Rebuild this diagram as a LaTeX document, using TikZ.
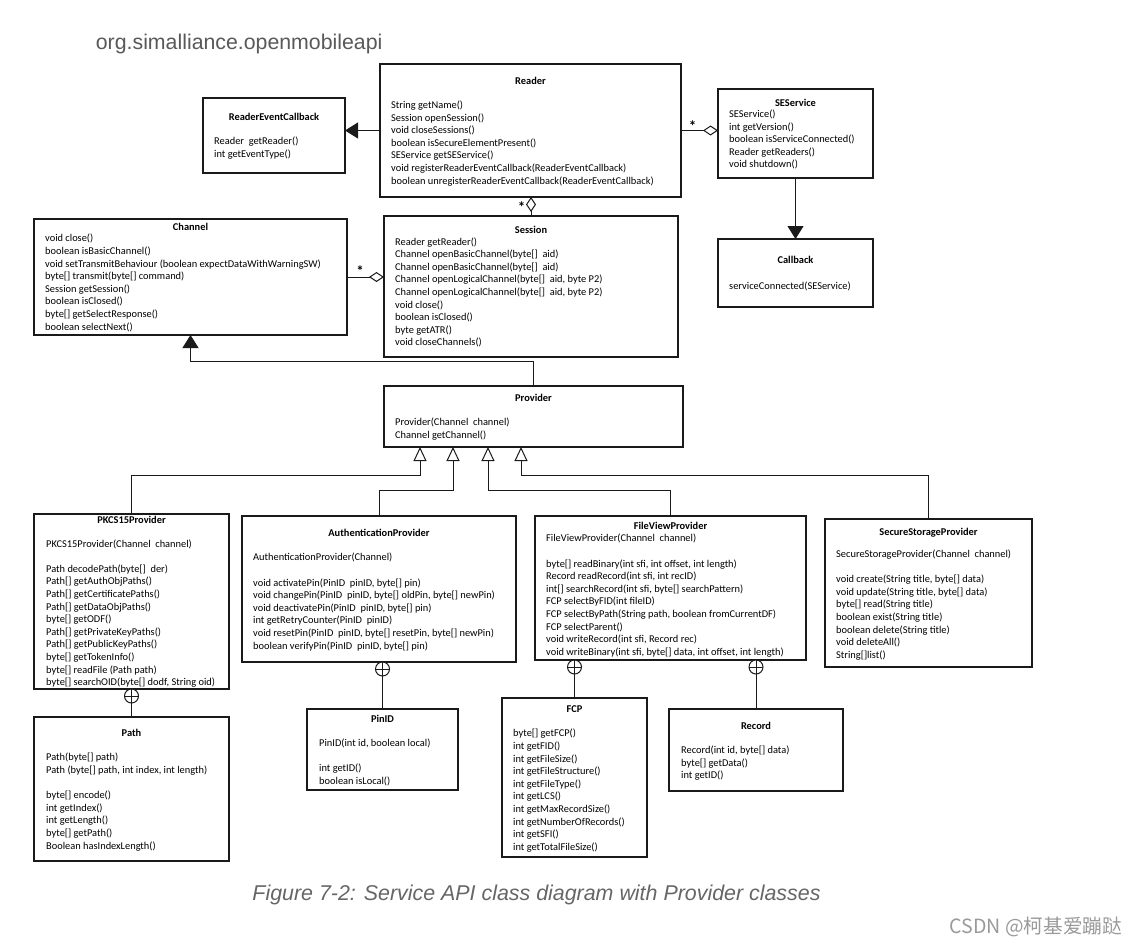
\documentclass[tikz,border=0pt]{standalone}
\usepackage{fontspec}
\setmainfont{Carlito}
\newfontfamily\arialfont{Liberation Sans}
\newfontfamily\cjkfont{Noto Sans CJK SC}
\usetikzlibrary{arrows.meta,calc}

\definecolor{titlegray}{HTML}{595959}
\definecolor{capgray}{HTML}{666666}
\definecolor{wmgray}{HTML}{9A9A9A}
\definecolor{linecol}{HTML}{1A1A1A}

\tikzset{
 box/.style={draw=linecol, line width=1.3pt, inner sep=0pt, outer sep=0pt, anchor=north west, fill=white},
 ctitle/.style={font=\fontsize{10.4}{12.6}\selectfont\bfseries, anchor=base, inner sep=0pt},
 mem/.style={font=\fontsize{10.4}{12.6}\selectfont, anchor=north west, align=left, inner sep=0pt, execute at begin node=\strut},
 conn/.style={draw=linecol, line width=1pt},
 filltri/.style={-{Triangle[length=13pt,width=16pt]}},
 opentri/.style={-{Triangle[open,length=14pt,width=13pt,fill=white]}},
 diam/.style={-{Diamond[open,length=15pt,width=10pt,fill=white]}},
 nest/.style={circle, draw=linecol, line width=1pt, minimum size=14pt, inner sep=0pt, outer sep=0pt, anchor=north, fill=white,
   path picture={\draw[linecol,line width=1pt] (path picture bounding box.north) -- (path picture bounding box.south) (path picture bounding box.west) -- (path picture bounding box.east);}},
 mult/.style={font=\fontsize{15}{15}\selectfont\bfseries, inner sep=0pt},
}

\begin{document}
\begin{tikzpicture}[x=1pt,y=-1pt]
\fill[white] (0,0) rectangle (1137,945);
\useasboundingbox (0,0) rectangle (1137,945);

% ---------- boxes ----------
\node[box, minimum width=142pt, minimum height=75pt] (rec) at (203,98) {};
\node[box, minimum width=301pt, minimum height=133pt] (reader) at (380,64) {};
\node[box, minimum width=155pt, minimum height=89pt] (seservice) at (718,89) {};
\node[box, minimum width=155pt, minimum height=68pt] (callback) at (718,239) {};
\node[box, minimum width=313pt, minimum height=116pt] (channel) at (34,219) {};
\node[box, minimum width=294pt, minimum height=141pt] (session) at (384,216) {};
\node[box, minimum width=299pt, minimum height=61pt] (provider) at (384,386) {};
\node[box, minimum width=195pt, minimum height=175pt] (pkcs) at (34,514) {};
\node[box, minimum width=274pt, minimum height=146pt] (auth) at (242,516) {};
\node[box, minimum width=271pt, minimum height=144pt] (fvp) at (535,516) {};
\node[box, minimum width=207pt, minimum height=148pt] (ssp) at (825,519) {};
\node[box, minimum width=195pt, minimum height=144pt] (path) at (34,717) {};
\node[box, minimum width=151pt, minimum height=81pt] (pinid) at (307,709) {};
\node[box, minimum width=145pt, minimum height=159pt] (fcp) at (502,698) {};
\node[box, minimum width=174pt, minimum height=82pt] (record) at (669,709) {};

% ---------- connectors ----------
\draw[conn, filltri] (reader.west) -- (reader.west -| rec.east);
\draw[conn, diam] (reader.east) -- (reader.east -| seservice.west);
\draw[conn, filltri] (seservice.south) -- (callback.north);
\draw[conn, diam] (session.north) -- (session.north |- reader.south);
\draw[conn, diam] (channel.east) -- (channel.east -| session.west);

\coordinate (pc) at (0,361);
\draw[conn, filltri] (provider.north) -- (provider.north |- pc) -- (channel.south |- pc) -- (channel.south);

\coordinate (t1) at ($(provider.south west)+(36,0)$);
\coordinate (t2) at ($(provider.south west)+(69,0)$);
\coordinate (t3) at ($(provider.south west)+(104,0)$);
\coordinate (t4) at ($(provider.south west)+(137,0)$);
\coordinate (h1) at (0,475);
\coordinate (h2) at (0,490);
\draw[conn, opentri] (pkcs.north) -- (pkcs.north |- h1) -- (t1 |- h1) -- (t1);
\draw[conn, opentri] (auth.north) -- (auth.north |- h2) -- (t2 |- h2) -- (t2);
\draw[conn, opentri] (fvp.north) -- (fvp.north |- h2) -- (t3 |- h2) -- (t3);
\draw[conn, opentri] (ssp.north) -- (ssp.north |- h1) -- (t4 |- h1) -- (t4);

\node[nest] (n1) at (pkcs.south) {};
\node[nest] (n2) at (pinid.north |- auth.south) {};
\node[nest] (n3) at (fcp.north |- fvp.south) {};
\node[nest] (n4) at (record.north |- fvp.south) {};
\draw[conn] (n1) -- (path);
\draw[conn] (n2) -- (pinid);
\draw[conn] (n3) -- (fcp);
\draw[conn] (n4) -- (record);

\node[mult] (m1) at (692.5,126.5) {*};
\node[mult] (m2) at (521.5,207.5) {*};
\node[mult] (m3) at (360,271.5) {*};

% ---------- titles ----------
\node[ctitle] (trec) at (274,120.1) {ReaderEventCallback};
\node[ctitle] (treader) at (530.5,84.1) {Reader};
\node[ctitle] (tses) at (795.5,106.7) {SEService};
\node[ctitle] (tcb) at (795.5,263.4) {Callback};
\node[ctitle] (tch) at (190.5,230.4) {Channel};
\node[ctitle] (tsess) at (531,233.4) {Session};
\node[ctitle] (tprov) at (533.5,401.4) {Provider};
\node[ctitle] (tpkcs) at (131.5,523.4) {PKCS15Provider};
\node[ctitle] (tauth) at (379,536.4) {AuthenticationProvider};
\node[ctitle] (tfvp) at (670.5,529.4) {FileViewProvider};
\node[ctitle] (tssp) at (928.5,535) {SecureStorageProvider};
\node[ctitle] (tpath) at (131.5,736.4) {Path};
\node[ctitle] (tpin) at (382.5,722.4) {PinID};
\node[ctitle] (tfcp) at (574.5,712.1) {FCP};
\node[ctitle] (trecord) at (756,729.4) {Record};

% ---------- members ----------
\node[mem] (mrec) at (214,137) {Reader~ getReader()\\int getEventType()};
\node[mem] (mreader) at (391,100.7) {String getName()\\Session openSession()\\void closeSessions()\\boolean isSecureElementPresent()\\SEService getSEService()\\void registerReaderEventCallback(ReaderEventCallback)\\boolean unregisterReaderEventCallback(ReaderEventCallback)};
\node[mem] (mses) at (729,109.7) {SEService()\\int getVersion()\\boolean isServiceConnected()\\Reader getReaders()\\void shutdown()};
\node[mem] (mcb) at (729,280.7) {serviceConnected(SEService)};
\node[mem] (mch) at (45,234) {void close()\\boolean isBasicChannel()\\void setTransmitBehaviour (boolean expectDataWithWarningSW)\\byte[] transmit(byte[] command)\\Session getSession()\\boolean isClosed()\\byte[] getSelectResponse()\\boolean selectNext()};
\node[mem] (msess) at (395,237.3) {Reader getReader()\\Channel openBasicChannel(byte[]~ aid)\\Channel openBasicChannel(byte[]~ aid)\\Channel openLogicalChannel(byte[]~ aid, byte P2)\\Channel openLogicalChannel(byte[]~ aid, byte P2)\\void close()\\boolean isClosed()\\byte getATR()\\void closeChannels()};
\node[mem] (mprov) at (395,417.7) {Provider(Channel~ channel)\\Channel getChannel()};
\node[mem] (mpkcs) at (46,539.3) {PKCS15Provider(Channel~ channel)\\[12.6pt]Path decodePath(byte[]~ der)\\Path[] getAuthObjPaths()\\Path[] getCertificatePaths()\\Path[] getDataObjPaths()\\byte[] getODF()\\Path[] getPrivateKeyPaths()\\Path[] getPublicKeyPaths()\\byte[] getTokenInfo()\\byte[] readFile (Path path)\\byte[] searchOID(byte[] dodf, String oid)};
\node[mem] (mauth) at (253,553) {AuthenticationProvider(Channel)\\[12.6pt]void activatePin(PinID~ pinID, byte[] pin)\\void changePin(PinID~ pinID, byte[] oldPin, byte[] newPin)\\void deactivatePin(PinID~ pinID, byte[] pin)\\int getRetryCounter(PinID~ pinID)\\void resetPin(PinID~ pinID, byte[] resetPin, byte[] newPin)\\boolean verifyPin(PinID~ pinID, byte[] pin)};
\node[mem] (mfvp) at (546,534) {FileViewProvider(Channel~ channel)\\[12.6pt]byte[] readBinary(int sfi, int offset, int length)\\Record readRecord(int sfi, int recID)\\int[] searchRecord(int sfi, byte[] searchPattern)\\FCP selectByFID(int fileID)\\FCP selectByPath(String path, boolean fromCurrentDF)\\FCP selectParent()\\void writeRecord(int sfi, Record rec)\\void writeBinary(int sfi, byte[] data, int offset, int length)};
\node[mem] (mssp) at (836,549.7) {SecureStorageProvider(Channel~ channel)\\[12.6pt]void create(String title, byte[] data)\\void update(String title, byte[] data)\\byte[] read(String title)\\boolean exist(String title)\\boolean delete(String title)\\void deleteAll()\\String[]list()};
\node[mem] (mpath) at (46,753) {Path(byte[] path)\\Path (byte[] path, int index, int length)\\[12.6pt]byte[] encode()\\int getIndex()\\int getLength()\\byte[] getPath()\\Boolean hasIndexLength()};
\node[mem] (mpin) at (319,738.7) {PinID(int id, boolean local)\\[12.6pt]int getID()\\boolean isLocal()};
\node[mem] (mfcp) at (513,729) {byte[] getFCP()\\int getFID()\\int getFileSize()\\int getFileStructure()\\int getFileType()\\int getLCS()\\int getMaxRecordSize()\\int getNumberOfRecords()\\int getSFI()\\int getTotalFileSize()};
\node[mem] (mrecord) at (681,745.7) {Record(int id, byte[] data)\\byte[] getData()\\int getID()};

% ---------- page texts ----------
\node[anchor=base west, inner sep=0pt, text=titlegray, font=\arialfont\fontsize{21.3}{24}\selectfont] (pkgname) at (95.7,49) {org.simalliance.openmobileapi};
\node[anchor=base, inner sep=0pt, text=capgray, font=\arialfont\itshape\fontsize{21.4}{24}\selectfont] (caption) at (536.5,900) {Figure 7-2: Service API class diagram with Provider classes};
\node[anchor=base east, inner sep=0pt, text=wmgray, font=\cjkfont\fontsize{19.6}{22}\selectfont] (wm) at (1122,933.5) {CSDN @柯基爱蹦跶};
\end{tikzpicture}
\end{document}
